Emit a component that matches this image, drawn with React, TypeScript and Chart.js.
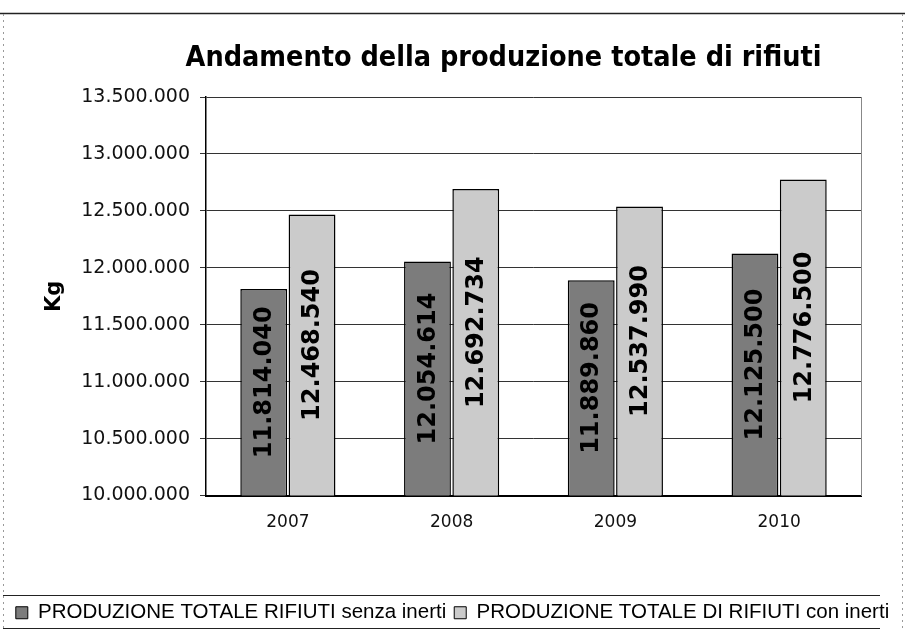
import React, { useEffect, useRef } from "react";
import { Chart, registerables } from "chart.js";

Chart.register(...registerables);

const categories = ["2007", "2008", "2009", "2010"];
const senzaInerti = [11814040, 12054614, 11889860, 12125500];
const conInerti = [12468540, 12692734, 12537990, 12776500];
const seriesLabels = [
  "PRODUZIONE TOTALE RIFIUTI senza inerti",
  "PRODUZIONE TOTALE DI RIFIUTI con inerti",
];
const titleText = "Andamento della produzione totale di rifiuti";
const yAxisTitle = "Kg";
const yMin = 10000000;
const yMax = 13500000;
const yStep = 500000;

const fmt = (v: number) =>
  Math.round(v)
    .toString()
    .replace(/\B(?=(\d{3})+(?!\d))/g, ".");

const frameTitlePlugin = {
  id: "frameTitle",
  beforeDraw(chart: any) {
    const { ctx, width, chartArea } = chart;
    ctx.save();
    ctx.fillStyle = "#ffffff";
    ctx.fillRect(0, 0, width, chart.height);
    ctx.strokeStyle = "#222";
    ctx.lineWidth = 1.5;
    ctx.beginPath();
    ctx.moveTo(0, 13.5);
    ctx.lineTo(width, 13.5);
    ctx.stroke();
    ctx.strokeStyle = "#999";
    ctx.lineWidth = 1;
    ctx.setLineDash([2, 4]);
    ctx.beginPath();
    ctx.moveTo(3.5, 14);
    ctx.lineTo(3.5, chart.height - 10);
    ctx.moveTo(width - 2.5, 14);
    ctx.lineTo(width - 2.5, chart.height - 10);
    ctx.stroke();
    ctx.setLineDash([]);
    ctx.fillStyle = "#000";
    ctx.font = "bold 28.5px 'DejaVu Sans Condensed', 'DejaVu Sans', sans-serif";
    ctx.textAlign = "center";
    ctx.textBaseline = "middle";
    ctx.fillText(titleText, (chartArea.left + chartArea.right) / 2 - 30, 59);
    ctx.restore();
  },
  afterDraw(chart: any) {
    const { ctx } = chart;
    const lg = chart.legend;
    ctx.save();
    if (lg) {
      ctx.strokeStyle = "#222";
      ctx.lineWidth = 1.2;
      ctx.beginPath();
      ctx.moveTo(lg.left + 3, Math.round(lg.top) + 0.5);
      ctx.lineTo(lg.right - 25, Math.round(lg.top) + 0.5);
      ctx.moveTo(lg.left + 3, Math.round(lg.bottom) - 4.5);
      ctx.lineTo(lg.right - 25, Math.round(lg.bottom) - 4.5);
      ctx.stroke();
    }
    ctx.restore();

    // value labels inside the bars, rotated
    const yScale = chart.scales.y;
    const base = yScale.getPixelForValue(yMin);
    chart.data.datasets.forEach((ds: any, di: number) => {
      const meta = chart.getDatasetMeta(di);
      meta.data.forEach((el: any, i: number) => {
        const x = Number(el.x);
        const top = yScale.getPixelForValue(ds.data[i]);
        const cy = (top + base) / 2 - 10;
        ctx.save();
        ctx.fillStyle = "#000000";
        ctx.font = "bold 24px 'DejaVu Sans', sans-serif";
        ctx.textAlign = "center";
        ctx.textBaseline = "middle";
        ctx.translate(x, cy);
        ctx.rotate(-Math.PI / 2);
        ctx.fillText(fmt(ds.data[i]), 0, 1);
        ctx.restore();
      });
    });
  },
};

export default function App() {
  const ref = useRef<HTMLCanvasElement | null>(null);

  useEffect(() => {
    document.body.style.margin = "0";
    const canvas = ref.current;
    if (!canvas) return;
    const chart = new Chart(canvas, {
      type: "bar",
      data: {
        labels: categories,
        datasets: [
          {
            label: seriesLabels[0],
            data: senzaInerti,
            backgroundColor: "#7c7c7c",
            borderColor: "#000",
            borderWidth: 1.5,
            borderSkipped: false,
            categoryPercentage: 0.59,
            barPercentage: 0.97,
          },
          {
            label: seriesLabels[1],
            data: conInerti,
            backgroundColor: "#cbcbcb",
            borderColor: "#000",
            borderWidth: 1.5,
            borderSkipped: false,
            categoryPercentage: 0.59,
            barPercentage: 0.97,
          },
        ],
      },
      options: {
        responsive: false,
        animation: false,
        devicePixelRatio: 1,
        layout: { padding: { top: 97, left: 0, right: 0, bottom: 9 } },
        plugins: {
          title: { display: false },
          tooltip: { enabled: false },
          legend: {
            display: true,
            position: "bottom",
            labels: {
              color: "#000",
              font: { family: "'Liberation Sans', Arial, sans-serif", size: 20.5 },
              boxWidth: 12,
              boxHeight: 12,
              padding: 8,
              generateLabels: (c: any) =>
                c.data.datasets.map((ds: any, i: number) => ({
                  text: ds.label,
                  fillStyle: ds.backgroundColor,
                  strokeStyle: "#000",
                  lineWidth: 1,
                  hidden: false,
                  datasetIndex: i,
                  fontColor: "#000",
                })),
            },
          },
        },
        scales: {
          x: {
            grid: { display: false },
            border: { display: true, color: "#000", width: 2 },
            ticks: {
              color: "#111",
              font: { family: "'DejaVu Sans', sans-serif", size: 17 },
              padding: 9,
            },
            afterFit: (s: any) => {
              s.height = 99;
            },
          },
          y: {
            min: yMin,
            max: yMax,
            position: "left",
            ticks: {
              stepSize: yStep,
              color: "#111",
              font: { family: "'DejaVu Sans', sans-serif", size: 19 },
              padding: 10,
              callback: (v: any) => fmt(Number(v)),
            },
            grid: {
              color: "#333",
              lineWidth: 1,
              tickLength: 6,
              drawTicks: true,
            },
            border: { display: true, color: "#000", width: 1.5 },
            title: {
              display: true,
              text: yAxisTitle,
              color: "#000",
              font: { family: "'DejaVu Sans', sans-serif", size: 21, weight: "bold" },
              padding: { top: 42 },
            },
            afterFit: (s: any) => {
              s.width = 206;
            },
          },
          yRight: {
            type: "linear",
            position: "right",
            min: yMin,
            max: yMax,
            grid: { display: false },
            ticks: { display: false },
            border: { display: true, color: "#888", width: 1, dash: [2, 2] },
            afterFit: (s: any) => {
              s.width = 44;
            },
          },
        },
      },
      plugins: [frameTitlePlugin],
    } as any);
    return () => chart.destroy();
  }, []);

  return <canvas ref={ref} width={905} height={642} style={{ display: "block" }} />;
}
